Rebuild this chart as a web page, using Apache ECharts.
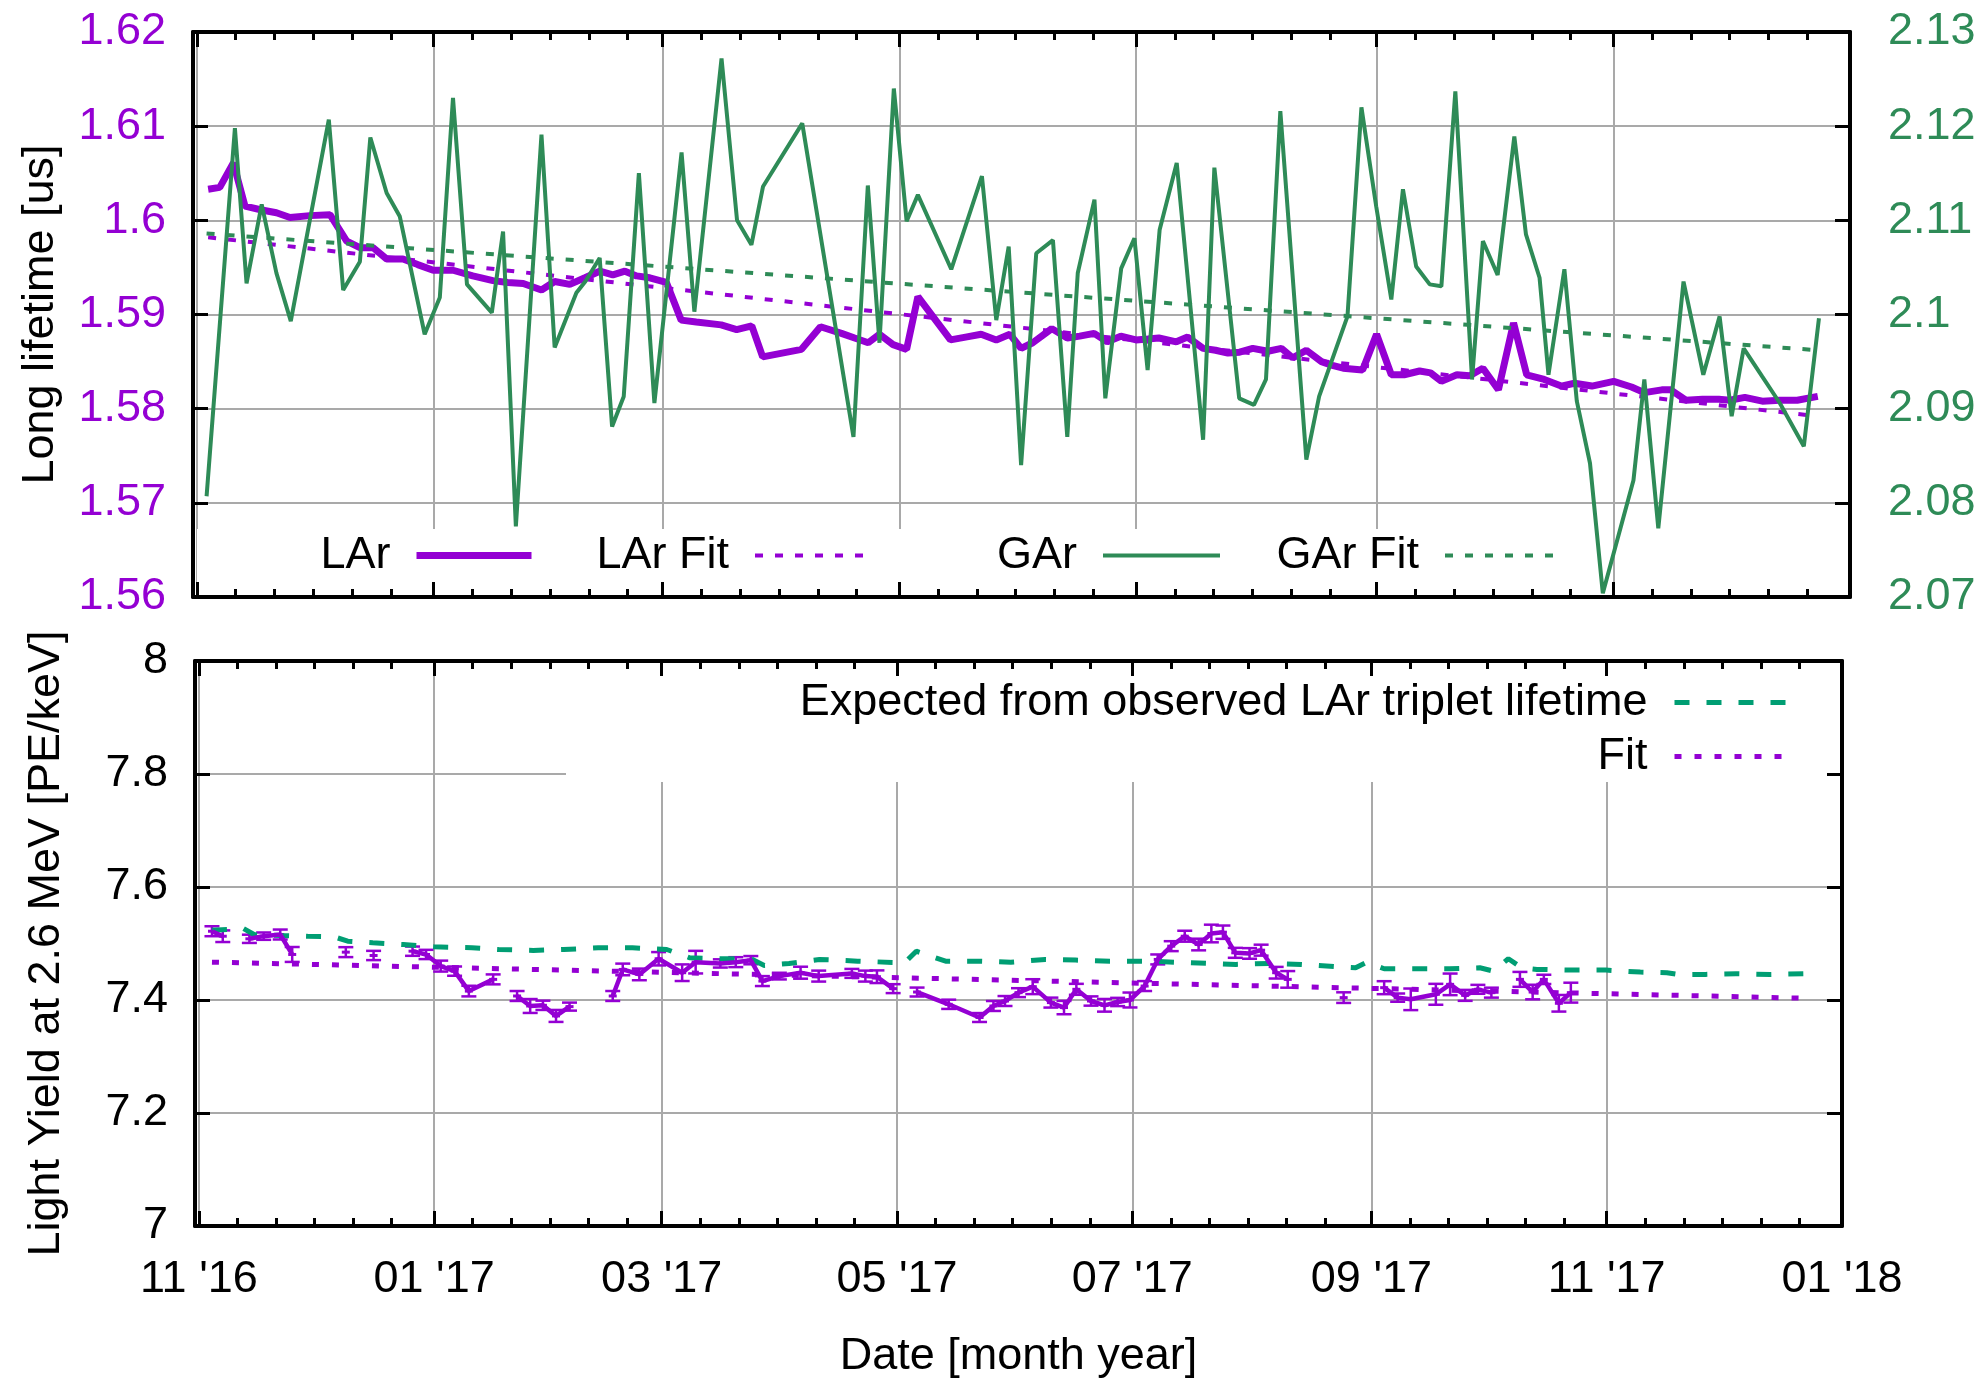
<!DOCTYPE html>
<html>
<head>
<meta charset="utf-8">
<script src="https://cdn.jsdelivr.net/npm/echarts@6/dist/echarts.min.js"></script>
<style>
  html, body { margin: 0; padding: 0; background: #fff; }
  #chart { width: 1985px; height: 1380px; }
</style>
</head>
<body>
<div id="chart"></div>
<script>
// ---------------- data ----------------
// Month ticks along the date axis
const xTickDates  = ['2016-11-01', '2017-01-01', '2017-03-01', '2017-05-01', '2017-07-01', '2017-09-01', '2017-11-01', '2018-01-01'];
const xTickLabels = ["11 '16", "01 '17", "03 '17", "05 '17", "07 '17", "09 '17", "11 '17", "01 '18"];

// Triplet lifetimes; days counted from 2016-11-01
const larDay = [2.9, 5.9, 9.4, 12.4, 16.7, 20.5, 24.0, 29.1, 34.3, 38.6, 42.0, 45.4, 48.9, 53.1, 56.9, 60.9, 66.0, 71.1, 76.3, 80.1,
  84.1, 88.8, 92.2, 96.1, 100.0, 103.8, 107.2, 110.3, 113.3, 116.7, 121.0, 124.8, 128.7, 135.1, 139.1, 143.0, 145.8, 155.8, 160.7, 166.1,
  169.5, 173.0, 175.9, 179.4, 182.9, 185.8, 194.2, 198.1, 202.1, 206.0, 209.5, 212.4, 215.4, 220.3, 224.3, 227.5, 231.2, 234.6, 238.1, 242.0,
  245.0, 247.9, 252.4, 255.3, 259.3, 262.5, 265.7, 268.7, 272.1, 276.0, 279.5, 282.4, 285.9, 289.8, 292.6, 295.4, 300.4, 304.0, 307.8, 311.1,
  315.1, 317.9, 320.7, 324.7, 328.0, 331.4, 335.4, 339.3, 342.7, 347.2, 351.6, 355.0, 359.5, 365.1, 369.7, 373.0, 377.5, 379.8, 383.7, 388.0,
  392.2, 395.0, 398.9, 403.4, 407.9, 412.4, 417.7];
const larLifetime = [1.6033, 1.6035, 1.6061, 1.6015, 1.6011, 1.6008, 1.6003, 1.6005, 1.6006, 1.5978, 1.5971, 1.5971, 1.5959, 1.5959, 1.5953, 1.5947, 1.5947, 1.5941, 1.5936, 1.5934,
  1.5933, 1.5926, 1.5935, 1.5932, 1.5939, 1.5946, 1.5942, 1.5946, 1.5941, 1.5939, 1.5934, 1.5894, 1.5892, 1.5889, 1.5884, 1.5888, 1.5855, 1.5863, 1.5887, 1.5880,
  1.5875, 1.5870, 1.5879, 1.5868, 1.5863, 1.5919, 1.5873, 1.5876, 1.5879, 1.5873, 1.5879, 1.5864, 1.5870, 1.5885, 1.5875, 1.5877, 1.5880, 1.5871, 1.5877, 1.5873,
  1.5874, 1.5875, 1.5871, 1.5876, 1.5864, 1.5862, 1.5859, 1.5860, 1.5864, 1.5861, 1.5864, 1.5854, 1.5862, 1.5850, 1.5846, 1.5843, 1.5841, 1.5879, 1.5836, 1.5836,
  1.5840, 1.5838, 1.5829, 1.5836, 1.5835, 1.5843, 1.5820, 1.5891, 1.5836, 1.5831, 1.5824, 1.5827, 1.5824, 1.5829, 1.5823, 1.5817, 1.5820, 1.5820, 1.5809, 1.5810,
  1.5810, 1.5809, 1.5812, 1.5808, 1.5809, 1.5809, 1.5813];

const garDay = [2.5, 9.8, 12.8, 16.7, 20.5, 24.2, 34.0, 37.7, 42.0, 44.7, 48.9, 52.3, 58.7, 62.6, 66.0, 69.6, 76.0, 78.9, 82.2, 88.8,
  92.2, 97.8, 100.1, 103.8, 107.0, 110.0, 113.9, 117.9, 124.9, 128.2, 135.2, 139.2, 142.9, 145.9, 156.0, 169.2, 172.9, 175.9, 179.6, 182.9,
  185.8, 194.4, 202.3, 206.0, 209.2, 212.4, 216.3, 220.6, 224.3, 227.0, 231.3, 234.1, 238.2, 241.6, 245.0, 248.1, 252.5, 259.3, 262.2, 268.6,
  272.4, 275.5, 279.2, 285.9, 289.2, 296.5, 300.1, 303.9, 307.8, 310.8, 314.2, 317.7, 320.7, 324.3, 328.6, 331.4, 335.2, 339.5, 342.5, 346.0,
  348.3, 352.4, 355.6, 359.0, 362.3, 370.2, 373.0, 376.6, 383.1, 388.2, 392.4, 395.5, 398.6, 403.4, 407.9, 414.1, 418.0];
const garLifetime = [2.0807, 2.1198, 2.1033, 2.1117, 2.1044, 2.0993, 2.1207, 2.1026, 2.1056, 2.1188, 2.1129, 2.1104, 2.0979, 2.1018, 2.1230, 2.1032, 2.1002, 2.1088, 2.0775, 2.1191,
  2.0965, 2.1023, 2.1035, 2.1060, 2.0881, 2.0913, 2.1150, 2.0906, 2.1172, 2.1003, 2.1272, 2.1100, 2.1074, 2.1136, 2.1203, 2.0870, 2.1137, 2.0970, 2.1240, 2.1099,
  2.1127, 2.1048, 2.1147, 2.0994, 2.1072, 2.0840, 2.1065, 2.1079, 2.0870, 2.1044, 2.1122, 2.0911, 2.1049, 2.1081, 2.0941, 2.1090, 2.1161, 2.0867, 2.1156, 2.0911,
  2.0904, 2.0931, 2.1216, 2.0846, 2.0913, 2.0998, 2.1220, 2.1115, 2.1016, 2.1133, 2.1051, 2.1032, 2.1030, 2.1237, 2.0931, 2.1078, 2.1042, 2.1189, 2.1085, 2.1039,
  2.0936, 2.1048, 2.0908, 2.0842, 2.0704, 2.0824, 2.0931, 2.0773, 2.1035, 2.0936, 2.0998, 2.0892, 2.0964, 2.0934, 2.0906, 2.0860, 2.0996];

// Linear fits (end points)
const larFitDay = [2.9, 417.7];
const larFit    = [1.5982, 1.5792];
const garFitDay = [2.5, 418.0];
const garFit    = [2.1086, 2.0962];

// Light yield at 2.6 MeV with uncertainties; segment ids mark connected runs
const lyDay = [3.4, 6.2, 13.1, 16.8, 21.1, 24.2, 38.1, 45.3, 55.4, 58.9, 62.7, 66.3, 70.0, 76.3, 82.5, 85.9, 89.2, 92.6, 96.1, 107.3,
  109.9, 114.2, 119.2, 125.3, 128.8, 135.2, 139.2, 143.1, 146.1, 150.5, 156.0, 160.7, 169.3, 172.8, 175.8, 180.0, 186.2, 194.4, 202.4, 206.0,
  209.0, 212.5, 216.2, 220.9, 224.3, 227.5, 231.3, 234.8, 238.2, 241.4, 245.2, 248.6, 252.1, 255.6, 259.2, 262.5, 265.5, 268.7, 272.4, 275.4,
  279.3, 282.3, 296.8, 307.3, 310.8, 314.2, 320.7, 324.4, 328.3, 331.6, 335.1, 342.5, 345.8, 348.7, 352.6, 355.7];
const lyValue = [7.5217, 7.5129, 7.5083, 7.5130, 7.5159, 7.4806, 7.4847, 7.4788, 7.4864, 7.4806, 7.4600, 7.4511, 7.4158, 7.4365, 7.4071, 7.3894, 7.3906, 7.3718, 7.3883, 7.4071,
  7.4541, 7.4453, 7.4730, 7.4483, 7.4670, 7.4647, 7.4670, 7.4705, 7.4335, 7.4423, 7.4483, 7.4423, 7.4471, 7.4423, 7.4412, 7.4201, 7.4141, 7.3924, 7.3690, 7.3894,
  7.3982, 7.4130, 7.4236, 7.3954, 7.3866, 7.4189, 7.3982, 7.3906, 7.3965, 7.4000, 7.4247, 7.4718, 7.4953, 7.5129, 7.4982, 7.5177, 7.5200, 7.4835, 7.4824, 7.4882,
  7.4483, 7.4365, 7.4042, 7.4218, 7.4042, 7.4012, 7.4101, 7.4277, 7.4082, 7.4189, 7.4130, 7.4365, 7.4141, 7.4365, 7.3942, 7.4130];
const lyError = [0.0088, 0.0103, 0.0073, 0.0065, 0.0088, 0.0132, 0.0088, 0.0082, 0.0082, 0.0082, 0.0097, 0.0082, 0.0094, 0.0088, 0.0088, 0.0123, 0.0082, 0.0106, 0.0071, 0.0088,
  0.0103, 0.0103, 0.0118, 0.0147, 0.0200, 0.0073, 0.0088, 0.0073, 0.0088, 0.0059, 0.0106, 0.0097, 0.0079, 0.0097, 0.0112, 0.0079, 0.0079, 0.0082, 0.0079, 0.0088,
  0.0088, 0.0079, 0.0132, 0.0088, 0.0118, 0.0097, 0.0082, 0.0112, 0.0073, 0.0132, 0.0088, 0.0088, 0.0088, 0.0097, 0.0103, 0.0156, 0.0118, 0.0088, 0.0094, 0.0097,
  0.0103, 0.0147, 0.0094, 0.0115, 0.0073, 0.0191, 0.0185, 0.0191, 0.0097, 0.0079, 0.0088, 0.0132, 0.0129, 0.0082, 0.0147, 0.0176];
const lySegment = [0, 0, 1, 1, 1, 1, 2, 3, 4, 4, 4, 4, 4, 4, 5, 5, 5, 5, 5, 6,
  6, 6, 6, 6, 6, 6, 6, 6, 6, 6, 6, 6, 6, 6, 6, 6, 7, 7, 7, 7,
  7, 7, 7, 7, 7, 7, 7, 7, 7, 7, 7, 7, 7, 7, 7, 7, 7, 7, 7, 7,
  7, 7, 8, 9, 9, 9, 9, 9, 9, 9, 9, 10, 10, 10, 10, 10];

// Light yield expected from the observed LAr triplet lifetime
const expDay = [3.4, 7.4, 11.3, 14.3, 21.3, 28.2, 35.1, 38.6, 45.1, 53.0, 60.9, 70.8, 77.7, 86.7, 94.6, 103.5, 112.4, 121.3, 127.3, 136.2,
  143.1, 146.6, 153.0, 160.9, 170.8, 179.8, 183.0, 186.0, 193.6, 202.5, 210.5, 219.4, 227.3, 236.2, 246.1, 257.0, 268.9, 277.4, 285.8, 294.7,
  299.9, 302.8, 307.3, 316.2, 324.2, 332.1, 335.6, 339.5, 343.0, 346.9, 356.8, 364.8, 373.7, 380.6, 383.6, 390.6, 398.5, 407.4, 417.3];
const expValue = [7.5235, 7.5247, 7.5277, 7.5159, 7.5141, 7.5129, 7.5118, 7.5041, 7.5012, 7.4982, 7.4941, 7.4924, 7.4894, 7.4877, 7.4894, 7.4924, 7.4924, 7.4894, 7.4747, 7.4730,
  7.4730, 7.4612, 7.4647, 7.4718, 7.4688, 7.4665, 7.4659, 7.4864, 7.4688, 7.4688, 7.4670, 7.4718, 7.4706, 7.4688, 7.4688, 7.4659, 7.4630, 7.4647, 7.4630, 7.4589,
  7.4570, 7.4670, 7.4553, 7.4553, 7.4553, 7.4570, 7.4511, 7.4730, 7.4570, 7.4541, 7.4529, 7.4529, 7.4494, 7.4483, 7.4453, 7.4453, 7.4465, 7.4453, 7.4465];

const lyFitDay = [3.4, 417.3];
const lyFit    = [7.467, 7.403];

// ---------------- helpers ----------------
const PURPLE = '#9400d3', GREEN = '#2e8b57', TEAL = '#009e73', GRID = '#a9a9a9';
const FONT = '"Liberation Sans", Arial, Helvetica, sans-serif';
const FS = 45;
const DAY = 864e5, T0 = Date.UTC(2016, 10, 1);
const toTime = d => T0 + d * DAY;
const pairs = (days, vals) => days.map((d, i) => [toTime(d), vals[i]]);

const majorX = xTickDates.map(s => Date.parse(s + 'T00:00:00Z'));
const minorX = [];
majorX.slice(0, -1).forEach(m => { for (let k = 1; k <= 5; k++) minorX.push(m + k * 10 * DAY); });
const X_MIN = toTime(-1), X_MAX = majorX[majorX.length - 1];

// light-yield line broken into its connected runs
const lyLine = [];
lyDay.forEach((d, i) => {
  if (i > 0 && lySegment[i] !== lySegment[i - 1]) lyLine.push([toTime(d), '-']);
  lyLine.push([toTime(d), lyValue[i]]);
});

const hidden = { show: false };
const border = { show: true, onZero: false, lineStyle: { color: '#000', width: 4 } };
const majorTick = (vals) => ({ show: true, inside: true, length: 15, customValues: vals, lineStyle: { color: '#000', width: 3 } });
const minorTick = { show: true, inside: true, length: 8, customValues: minorX, lineStyle: { color: '#000', width: 3 } };
const text = (color) => ({ fontFamily: FONT, fontSize: FS, color });

function xAxesFor(g, withLabels) {
  const base = { type: 'value', gridIndex: g, min: X_MIN, max: X_MAX, axisLine: hidden, axisTick: hidden, axisLabel: hidden, splitLine: hidden };
  const bottom = { ...base, position: 'bottom', z: 10, axisLine: border, axisTick: majorTick(majorX) };
  if (withLabels) {
    bottom.axisLabel = { show: true, customValues: majorX, margin: 31, formatter: v => xTickLabels[majorX.indexOf(v)], ...text('#000') };
    bottom.name = 'Date [month year]';
    bottom.nameLocation = 'middle';
    bottom.nameGap = 108;
    bottom.nameTextStyle = text('#000');
  }
  return [
    { ...base, position: 'bottom', z: 0, axisTick: { show: false, customValues: majorX }, splitLine: { show: true, lineStyle: { color: GRID, width: 2 } } },
    bottom,
    { ...base, position: 'top', z: 10, axisLine: border, axisTick: majorTick(majorX) },
    { ...base, position: 'bottom', z: 10, axisTick: minorTick },
    { ...base, position: 'top', z: 10, axisTick: minorTick }
  ];
}

function yAxesFor(g, min, max, interval, left, right) {
  const base = { type: 'value', gridIndex: g, min, max, interval, axisLine: hidden, axisTick: hidden, axisLabel: hidden, splitLine: hidden };
  return [
    { ...base, position: 'left', z: 0, splitLine: { show: true, lineStyle: { color: GRID, width: 2 } } },
    { ...base, position: 'left', z: 10, axisLine: border, axisTick: { show: true, inside: true, length: 15, lineStyle: { color: '#000', width: 3 } },
      axisLabel: { show: true, margin: 27, ...text(left.color) },
      name: left.name, nameLocation: 'middle', nameGap: left.gap, nameTextStyle: text('#000') },
    { ...base, position: 'right', z: 10, min: right.min, max: right.max, axisLine: border,
      axisTick: { show: true, inside: true, length: 15, lineStyle: { color: '#000', width: 3 } },
      axisLabel: right.color ? { show: true, margin: 38, ...text(right.color) } : hidden }
  ];
}

function key(name, sampleEnd, centerY, width, gap) {
  return {
    show: true, data: [name], right: 1985 - sampleEnd, top: centerY - 20, padding: 0,
    orient: 'horizontal', align: 'right', itemWidth: width, itemHeight: 14, selectedMode: false, z: 6,
    textStyle: { ...text('#000'), padding: [0, gap - 5, 0, 0] },
    lineStyle: { width: 'inherit' },
    itemStyle: { opacity: 0, borderWidth: 0 }
  };
}

const chart = echarts.init(document.getElementById('chart'), null, { renderer: 'canvas' });
chart.setOption({
  animation: false,
  backgroundColor: '#fff',
  grid: [
    { left: 193, right: 1985 - 1850, top: 32, height: 565 },
    { left: 195, right: 1985 - 1842, top: 661, height: 566 }
  ],
  xAxis: [...xAxesFor(0, false), ...xAxesFor(1, true)],
  yAxis: [
    ...yAxesFor(0, 1.56, 1.62, 0.01, { color: PURPLE, name: 'Long lifetime [us]', gap: 130 }, { min: 2.07, max: 2.13, color: GREEN }),
    ...yAxesFor(1, 7, 8, 0.2, { color: '#000', name: 'Light Yield at 2.6 MeV [PE/keV]', gap: 126 }, { min: 7, max: 8, color: null })
  ],
  legend: [
    key('LAr', 535, 553, 115, 26),
    key('LAr Fit', 873, 553, 116, 26),
    key('GAr', 1222, 553, 117, 26),
    key('GAr Fit', 1560, 553, 113, 26),
    key('Expected from observed LAr triplet lifetime', 1789, 700, 112, 27),
    key('Fit', 1787, 754, 110, 27)
  ],
  graphic: [
    { type: 'rect', z: 3, shape: { x: 197, y: 529, width: 1393, height: 66 }, style: { fill: '#fff' } },
    { type: 'rect', z: 3, shape: { x: 566, y: 663, width: 1273, height: 119 }, style: { fill: '#fff' } }
  ],
  series: [
    { name: 'LAr', type: 'line', xAxisIndex: 0, yAxisIndex: 0, data: pairs(larDay, larLifetime), symbol: 'none',
      lineStyle: { color: PURPLE, width: 7 }, itemStyle: { color: PURPLE } },
    { name: 'LAr Fit', type: 'line', xAxisIndex: 0, yAxisIndex: 0, data: pairs(larFitDay, larFit), symbol: 'none',
      lineStyle: { color: PURPLE, width: 4, type: [8, 12] }, itemStyle: { color: PURPLE } },
    { name: 'GAr', type: 'line', xAxisIndex: 0, yAxisIndex: 2, data: pairs(garDay, garLifetime), symbol: 'none',
      lineStyle: { color: GREEN, width: 4 }, itemStyle: { color: GREEN } },
    { name: 'GAr Fit', type: 'line', xAxisIndex: 0, yAxisIndex: 2, data: pairs(garFitDay, garFit), symbol: 'none',
      lineStyle: { color: GREEN, width: 4, type: [8, 12] }, itemStyle: { color: GREEN } },

    { name: 'Expected from observed LAr triplet lifetime', type: 'line', xAxisIndex: 5, yAxisIndex: 3, data: pairs(expDay, expValue), symbol: 'none',
      lineStyle: { color: TEAL, width: 5, type: [15, 17] }, itemStyle: { color: TEAL } },
    { name: 'Fit', type: 'line', xAxisIndex: 5, yAxisIndex: 3, data: pairs(lyFitDay, lyFit), symbol: 'none',
      lineStyle: { color: PURPLE, width: 5, type: [7, 13] }, itemStyle: { color: PURPLE } },
    { name: 'Light yield', type: 'line', xAxisIndex: 5, yAxisIndex: 3, data: lyLine, symbol: 'none', connectNulls: false,
      lineStyle: { color: PURPLE, width: 4.5 }, itemStyle: { color: PURPLE } },
    { name: 'Light yield uncertainty', type: 'custom', xAxisIndex: 5, yAxisIndex: 3,
      data: lyDay.map((d, i) => [toTime(d), lyValue[i], lyError[i]]),
      encode: { x: 0, y: 1 },
      renderItem: (params, api) => {
        const x = api.value(0), y = api.value(1), e = api.value(2);
        const lo = api.coord([x, y - e]), hi = api.coord([x, y + e]), c = api.coord([x, y]);
        const hw = 7.5;
        const st = { stroke: PURPLE, lineWidth: 2.5, fill: null };
        return { type: 'group', children: [
          { type: 'line', shape: { x1: lo[0], y1: lo[1], x2: hi[0], y2: hi[1] }, style: st },
          { type: 'line', shape: { x1: lo[0] - hw, y1: lo[1], x2: lo[0] + hw, y2: lo[1] }, style: st },
          { type: 'line', shape: { x1: hi[0] - hw, y1: hi[1], x2: hi[0] + hw, y2: hi[1] }, style: st },
          { type: 'line', shape: { x1: c[0] - 4, y1: c[1], x2: c[0] + 4, y2: c[1] }, style: { stroke: PURPLE, lineWidth: 3 } }
        ] };
      } }
  ]
});
</script>
</body>
</html>
